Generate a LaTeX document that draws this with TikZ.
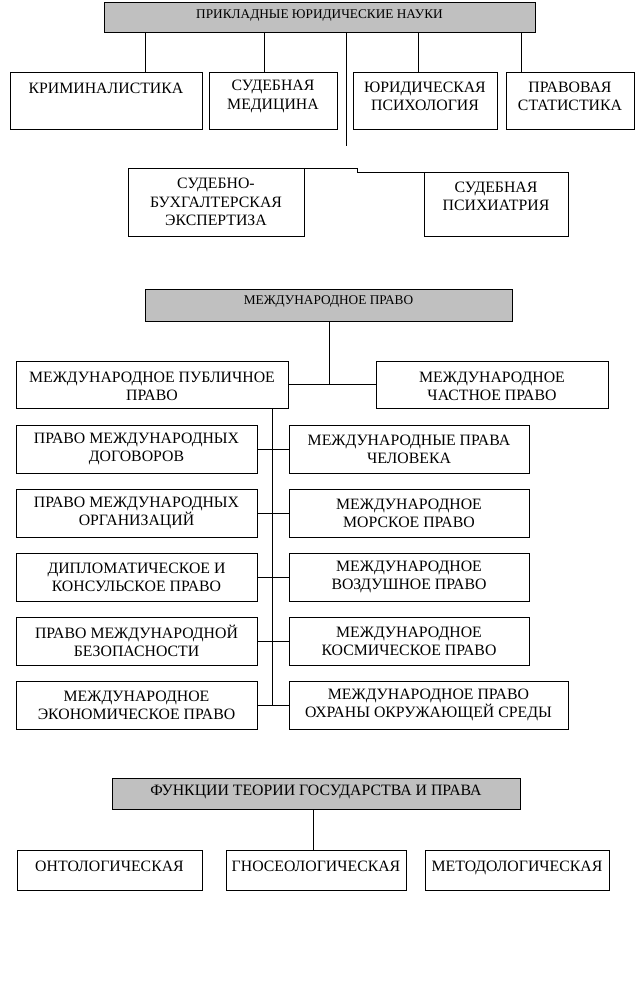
\documentclass[tikz,border=0pt]{standalone}
\usepackage{fontspec}
\setmainfont{Liberation Serif}
\begin{document}
\begin{tikzpicture}[x=1pt,y=-1pt,
  box/.style={draw=black, line width=0.8pt, rectangle, inner sep=0pt, outer sep=0pt, fill=white},
  head/.style={box, fill=headgray},
  txt/.style={inner sep=0pt, align=center, font=\fontsize{15.8}{18.2}\selectfont},
  smalltxt/.style={inner sep=0pt, align=center, font=\fontsize{13.3}{15}\selectfont},
  link/.style={draw=black, line width=0.8pt}]
\definecolor{headgray}{HTML}{C0C0C0}
\useasboundingbox (0,0) rectangle (641,994);
\newcommand\bx[8][box]{%
  \node[#1, anchor=north west, minimum width={#5-#3}, minimum height={#6-#4}] (#2) at (#3,#4) {};
  \node[txt] (#2t) at ({(#3+#5)/2},#7) {#8};}
\newcommand\hbx[8][head]{%
  \node[#1, anchor=north west, minimum width={#5-#3}, minimum height={#6-#4}] (#2) at (#3,#4) {};
  \node[smalltxt] (#2t) at ({(#3+#5)/2},#7) {#8};}

% ---------- top ----------
\hbx{T1}{104}{2}{535}{32}{15.5}{ПРИКЛАДНЫЕ ЮРИДИЧЕСКИЕ НАУКИ}
\bx{krim}{10}{72}{202}{129}{88}{КРИМИНАЛИСТИКА}
\bx{sudmed}{209}{72}{337}{129}{96.5}{СУДЕБНАЯ\\МЕДИЦИНА}
\bx{yurpsy}{353}{72}{497}{129}{96.5}{ЮРИДИЧЕСКАЯ\\ПСИХОЛОГИЯ}
\bx{pravst}{506}{72}{634}{129}{96.5}{ПРАВОВАЯ\\СТАТИСТИКА}
\bx{sbe}{128}{168}{304}{236}{202}{СУДЕБНО-\\БУХГАЛТЕРСКАЯ\\ЭКСПЕРТИЗА}
\bx{spsy}{424}{172}{568}{236}{196}{СУДЕБНАЯ\\ПСИХИАТРИЯ}
\coordinate (c1) at (145,0);
\coordinate (c2) at (264,0);
\coordinate (c3) at (346,0);
\coordinate (c3end) at (346,146);
\coordinate (c4) at (418,0);
\coordinate (c5) at (521,0);
\coordinate (stepc) at (357,172);
\draw[link] (T1.south -| c1) -- (krim.north -| c1);
\draw[link] (T1.south -| c2) -- (sudmed.north -| c2);
\draw[link] (T1.south -| c3) -- (c3end);
\draw[link] (T1.south -| c4) -- (yurpsy.north -| c4);
\draw[link] (T1.south -| c5) -- (pravst.north -| c5);
\draw[link] (sbe.north east) -| (stepc) -- (spsy.north west);

% ---------- middle ----------
\hbx{T2}{145}{289}{512}{321}{301.5}{МЕЖДУНАРОДНОЕ ПРАВО}
\bx{pub}{16}{361}{288}{408}{386}{МЕЖДУНАРОДНОЕ ПУБЛИЧНОЕ\\ПРАВО}
\bx{priv}{376}{361}{608}{408}{386}{МЕЖДУНАРОДНОЕ\\ЧАСТНОЕ ПРАВО}
\coordinate (j) at (329,384.5);
\draw[link] (T2.south -| j) -- (j);
\draw[link] (pub.east) -- (priv.west);

\bx{L1}{16}{425}{257}{473}{449}{ПРАВО МЕЖДУНАРОДНЫХ\\ДОГОВОРОВ}
\bx{R1}{289}{425}{529}{473}{449}{МЕЖДУНАРОДНЫЕ ПРАВА\\ЧЕЛОВЕКА}
\bx{L2}{16}{489}{257}{537}{513}{ПРАВО МЕЖДУНАРОДНЫХ\\ОРГАНИЗАЦИЙ}
\bx{R2}{289}{489}{529}{537}{513}{МЕЖДУНАРОДНОЕ\\МОРСКОЕ ПРАВО}
\bx{L3}{16}{553}{257}{601}{577}{ДИПЛОМАТИЧЕСКОЕ И\\КОНСУЛЬСКОЕ ПРАВО}
\bx{R3}{289}{553}{529}{601}{577}{МЕЖДУНАРОДНОЕ\\ВОЗДУШНОЕ ПРАВО}
\bx{L4}{16}{617}{257}{665}{641}{ПРАВО МЕЖДУНАРОДНОЙ\\БЕЗОПАСНОСТИ}
\bx{R4}{289}{617}{529}{665}{641}{МЕЖДУНАРОДНОЕ\\КОСМИЧЕСКОЕ ПРАВО}
\bx{L5}{16}{681}{257}{729}{705}{МЕЖДУНАРОДНОЕ\\ЭКОНОМИЧЕСКОЕ ПРАВО}
\bx{R5}{289}{681}{568}{729}{705}{МЕЖДУНАРОДНОЕ ПРАВО\\ОХРАНЫ ОКРУЖАЮЩЕЙ СРЕДЫ}
\coordinate (spine) at (272,0);
\draw[link] (pub.south -| spine) -- (L5.east -| spine);
\foreach \k in {1,...,5} {\draw[link] (L\k.east) -- (R\k.west);}

% ---------- bottom ----------
\node[head, anchor=north west, minimum width=408, minimum height=31] (T3) at (112,778) {};
\node[txt] (T3t) at (316,791.5) {ФУНКЦИИ ТЕОРИИ ГОСУДАРСТВА И ПРАВА};
\bx{ont}{17}{850}{202}{890}{866}{ОНТОЛОГИЧЕСКАЯ}
\bx{gno}{226}{850}{406}{890}{866}{ГНОСЕОЛОГИЧЕСКАЯ}
\bx{met}{425}{850}{609}{890}{868}{МЕТОДОЛОГИЧЕСКАЯ}
\coordinate (g) at (313,0);
\draw[link] (T3.south -| g) -- (gno.north -| g);
\end{tikzpicture}
\end{document}
